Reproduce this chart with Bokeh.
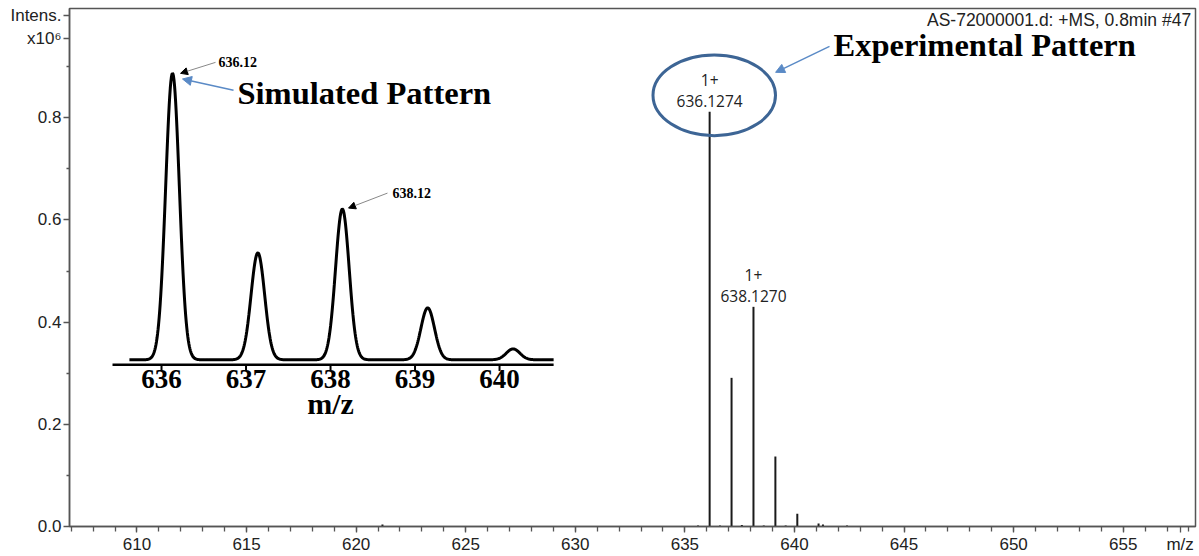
import numpy as np
from bokeh.plotting import figure
from bokeh.models import (Range1d, FixedTicker, CustomJSTickFormatter, Label, Arrow,
                          NormalHead, ColumnDataSource)
from bokeh.core.properties import value
from bokeh.embed import file_html
from bokeh.resources import INLINE

# ---------------- data ----------------
# experimental spectrum (m/z, intensity x10^6)
exp_mz = [621.2, 635.6, 636.13, 636.6, 637.13, 637.6, 638.13, 638.6, 639.13, 639.6,
          640.13, 641.1, 641.3, 642.4]
exp_int = [0.004, 0.002, 0.812, 0.002, 0.291, 0.003, 0.430, 0.002, 0.137, 0.002,
           0.025, 0.006, 0.004, 0.002]
exp_label_mz = [636.13, 638.13]
exp_label_charge = ["1+", "1+"]
exp_label_value = ["636.1274", "638.1270"]

main_xticks = [610, 615, 620, 625, 630, 635, 640, 645, 650, 655]
main_xminor = list(range(607, 659))
xaxis_title_pos = 657.6          # where the "m/z" unit sits on the x axis
main_yticks = [0.0, 0.2, 0.4, 0.6, 0.8, 1.0]
main_yminor = [0.1, 0.3, 0.5, 0.7, 0.9]
yaxis_unit_pos = 0.955           # where "x10^6" sits on the y axis

# simulated isotope pattern (inset): peak centres, relative intensities, peak FWHM
sim_mz = [636.13, 637.14, 638.14, 639.15, 640.16]
sim_rel = [100.0, 37.3, 52.6, 18.1, 3.8]
sim_fwhm = 0.19
sim_span = [635.62, 640.64]
inset_ticks = [636, 637, 638, 639, 640]

# ---------------- figure ----------------
p = figure(width=1199, height=556, x_range=Range1d(606.92, 658.3), y_range=Range1d(0, 1.014),
           output_backend="svg", toolbar_location=None,
           min_border_left=69, min_border_right=4, min_border_top=8, min_border_bottom=29)
p.background_fill_color = "white"
p.border_fill_color = "white"
p.outline_line_color = "#555555"
p.outline_line_width = 1.5
p.xgrid.visible = False
p.ygrid.visible = False

p.xaxis.ticker = FixedTicker(ticks=main_xticks + [xaxis_title_pos], minor_ticks=main_xminor)
p.xaxis.formatter = CustomJSTickFormatter(
    code="return tick > 656 ? 'm/z' : tick.toFixed(0);")
p.yaxis.ticker = FixedTicker(ticks=main_yticks + [yaxis_unit_pos], minor_ticks=main_yminor)
p.yaxis.formatter = CustomJSTickFormatter(
    code="if (tick > 0.99) { return 'Intens.'; } "
         "if (tick > 0.94) { return 'x10\\u2076'; } "
         "return tick.toFixed(1);")
for ax in (p.xaxis[0], p.yaxis[0]):
    ax.axis_line_color = "#555555"
    ax.axis_line_width = 1.5
    ax.major_tick_line_color = "#555555"
    ax.minor_tick_line_color = "#555555"
    ax.major_tick_line_width = 1.3
    ax.minor_tick_line_width = 1.3
    ax.major_tick_in = 0
    ax.minor_tick_in = 0
    ax.major_label_text_font = "Liberation Sans"
    ax.major_label_text_font_size = "17px"
    ax.major_label_text_color = "#222222"
    ax.major_label_standoff = 2
p.xaxis.major_tick_out = 6
p.xaxis.minor_tick_out = 5
p.yaxis.major_tick_out = 6
p.yaxis.minor_tick_out = 3

# experimental sticks
src = ColumnDataSource(dict(mz=exp_mz, inten=exp_int))
p.segment(x0="mz", y0=0, x1="mz", y1="inten", source=src, line_color="#1a1a1a", line_width=2)

# peak labels
p.text(x=exp_label_mz, y=[0.875, 0.492], text=exp_label_charge, text_align="center",
       text_baseline="middle", text_font=value("Open Sans"), text_font_size="15.5px",
       text_color="#222222")
p.text(x=exp_label_mz, y=[0.833, 0.451], text=exp_label_value, text_align="center",
       text_baseline="middle", text_font=value("Open Sans"), text_font_size="15.5px",
       text_color="#222222")

# ellipse around the main peak label
p.ellipse(x=[636.34], y=[0.844], width=[5.59], height=[0.158], fill_alpha=0,
          line_color="#3d6595", line_width=3)

# Experimental Pattern annotation
p.add_layout(Label(x=641.78, y=0.943, text="Experimental Pattern", text_align="left",
                   text_baseline="middle", text_font="Liberation Serif", text_font_style="bold",
                   text_font_size="32.5px", text_color="black"))
p.add_layout(Arrow(x_start=641.6, y_start=0.940, x_end=639.14, y_end=0.889,
                   line_color="#5a8ac6", line_width=1.5,
                   end=NormalHead(size=9, fill_color="#5a8ac6", line_color="#5a8ac6")))

# header text
p.add_layout(Label(x=658.1, y=0.991, text="AS-72000001.d: +MS, 0.8min #47", text_align="right",
                   text_baseline="middle", text_font="Liberation Sans", text_font_size="17.5px",
                   text_color="#222222"))

# ---------------- inset (simulated pattern) ----------------
p.extra_x_ranges = {"ix": Range1d(634.911, 648.236)}
p.extra_y_ranges = {"iy": Range1d(-58.19, 122.6)}

xs = np.linspace(sim_span[0], sim_span[1], 800)
prof = np.zeros_like(xs)
for c, a in zip(sim_mz, sim_rel):
    prof += a * np.exp(-4 * np.log(2) * (xs - c) ** 2 / sim_fwhm ** 2)
p.line(xs, prof, x_range_name="ix", y_range_name="iy", line_color="black", line_width=3)

# inset axis
p.segment(x0=[635.42], y0=[-1.74], x1=[640.64], y1=[-1.74], x_range_name="ix",
          y_range_name="iy", line_color="black", line_width=2.5)
p.segment(x0=inset_ticks, y0=-1.74, x1=inset_ticks, y1=-3.9, x_range_name="ix",
          y_range_name="iy", line_color="black", line_width=2)
p.text(x=inset_ticks, y=-3.4, text=[str(t) for t in inset_ticks], x_range_name="ix",
       y_range_name="iy", text_align="center", text_baseline="top",
       text_font=value("Liberation Serif"), text_font_style="bold", text_font_size="27px",
       text_color="black")
p.add_layout(Label(x=638.0, y=-15.3, text="m/z", x_range_name="ix", y_range_name="iy",
                   text_align="center", text_baseline="middle", text_font="Liberation Serif",
                   text_font_style="bold", text_font_size="30px", text_color="black"))

# inset annotations
p.add_layout(Label(x=636.674, y=103.8, text="636.12", x_range_name="ix", y_range_name="iy",
                   text_align="left", text_baseline="middle", text_font="Liberation Serif",
                   text_font_style="bold", text_font_size="14px", text_color="black"))
p.add_layout(Arrow(x_start=636.639, y_start=103.8, x_end=636.225, y_end=99.97,
                   x_range_name="ix", y_range_name="iy", line_color="#888888", line_width=1,
                   end=NormalHead(size=7, fill_color="black", line_color="black")))
p.add_layout(Label(x=638.733, y=58.17, text="638.12", x_range_name="ix", y_range_name="iy",
                   text_align="left", text_baseline="middle", text_font="Liberation Serif",
                   text_font_style="bold", text_font_size="14px", text_color="black"))
p.add_layout(Arrow(x_start=638.674, y_start=58.17, x_end=638.213, y_end=52.94,
                   x_range_name="ix", y_range_name="iy", line_color="#888888", line_width=1,
                   end=NormalHead(size=7, fill_color="black", line_color="black")))
p.add_layout(Label(x=636.899, y=93.0, text="Simulated Pattern", x_range_name="ix",
                   y_range_name="iy", text_align="left", text_baseline="middle",
                   text_font="Liberation Serif", text_font_style="bold", text_font_size="32.5px",
                   text_color="black"))
p.add_layout(Arrow(x_start=636.852, y_start=94.04, x_end=636.248, y_end=98.0,
                   x_range_name="ix", y_range_name="iy", line_color="#5a8ac6", line_width=1.5,
                   end=NormalHead(size=9, fill_color="#5a8ac6", line_color="#5a8ac6")))

open("out.html", "w").write(file_html(p, INLINE))
